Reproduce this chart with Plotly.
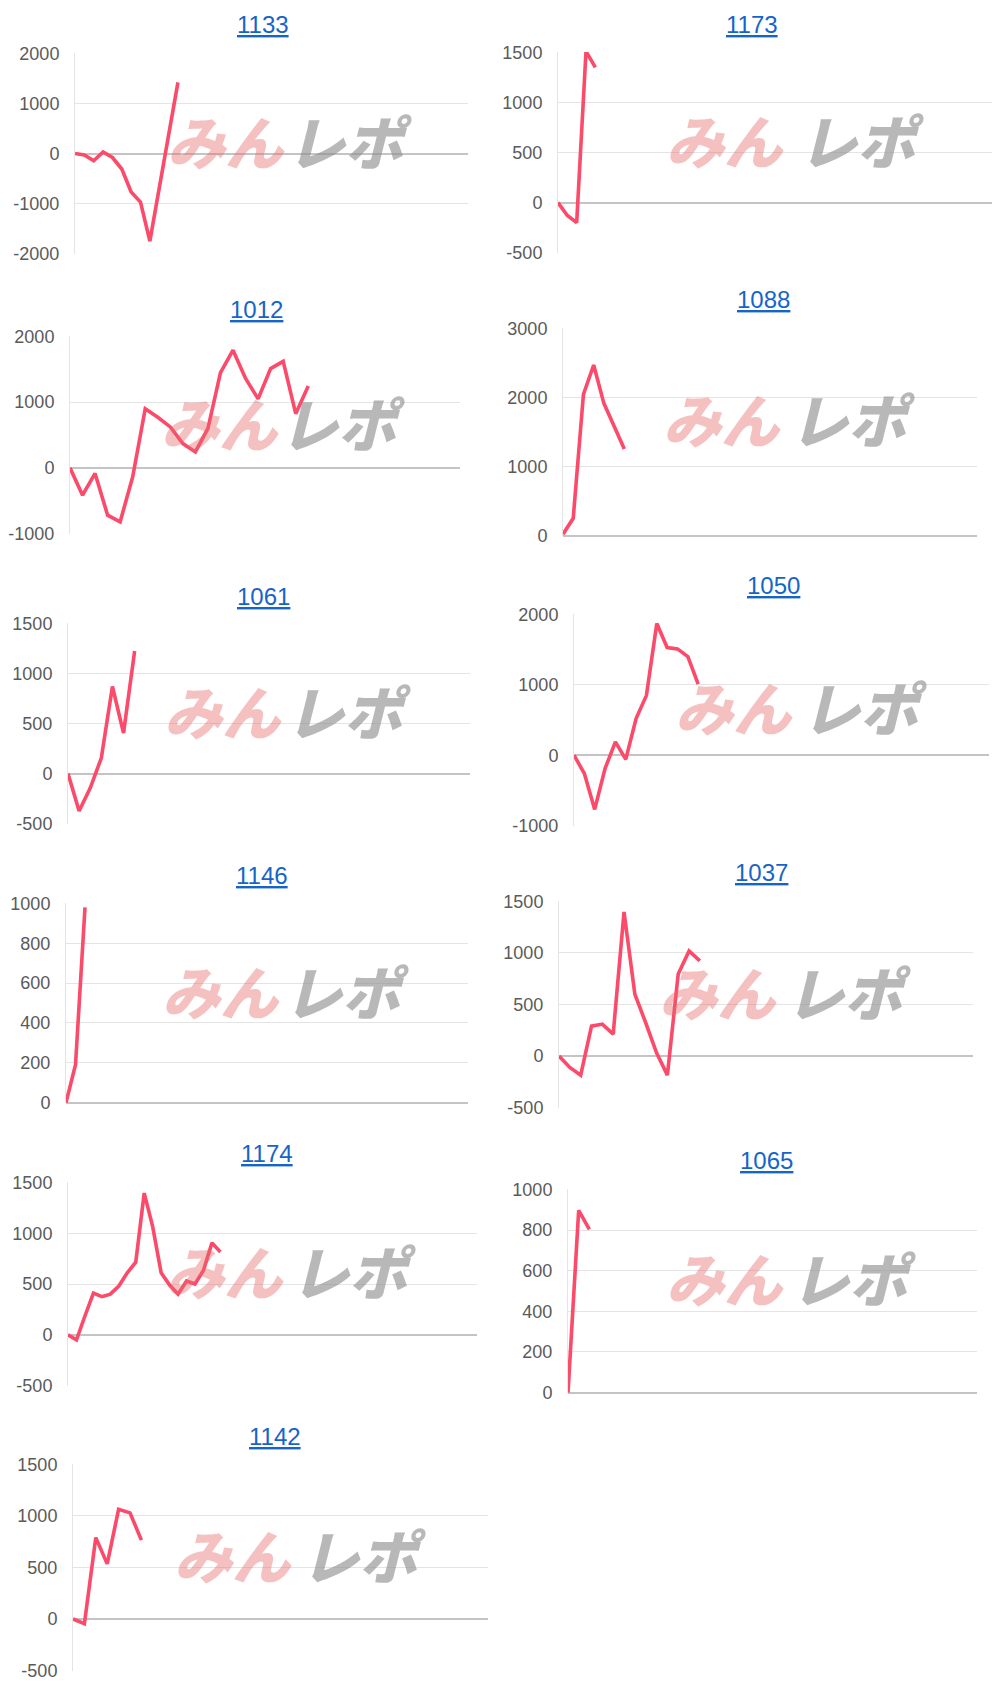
import plotly.graph_objects as go

# ---- data ----
titles = ["1133", "1173", "1012", "1088", "1061", "1050", "1146", "1037", "1174", "1065", "1142"]

v1133 = [0, -30, -145, 30, -80, -310, -770, -970, -1750, -680, 380, 1420]
v1173 = [0, -130, -200, 1510, 1350]
v1012 = [0, -415, -85, -720, -820, -135, 900, 770, 623, 370, 243, 600, 1450, 1790, 1360, 1050, 1510, 1620, 825, 1245]
v1088 = [20, 250, 2045, 2470, 1915, 1577, 1254]
v1061 = [0, -375, -145, 155, 870, 405, 1225]
v1050 = [0, -260, -770, -190, 190, -60, 520, 850, 1870, 1530, 1510, 1400, 1010]
v1146 = [0, 190, 980]
v1037 = [0, -110, -185, 290, 310, 213, 1397, 600, 323, 32, -185, 795, 1020, 923]
v1174 = [0, -50, 185, 410, 375, 400, 480, 610, 715, 1395, 1065, 610, 490, 400, 530, 500, 635, 905, 815]
v1065 = [0, 897, 803]
v1142 = [0, -45, 790, 535, 1065, 1030, 765]

series = [v1133, v1173, v1012, v1088, v1061, v1050, v1146, v1037, v1174, v1065, v1142]

y_ranges = [(-2000, 2000), (-500, 1500), (-1000, 2000), (0, 3000), (-500, 1500), (-1000, 2000),
            (0, 1000), (-500, 1500), (-500, 1500), (0, 1000), (-500, 1500)]
y_dticks = [1000, 500, 1000, 1000, 500, 1000, 200, 500, 500, 200, 500]

# ---- layout config (pixels) ----
W, H = 1000, 1693
# left, right, top, bottom of each plot area
boxes = [(75, 468, 53, 254), (558, 992, 52, 253),
         (70, 460, 336, 534), (563, 977, 328, 536),
         (68, 470, 623, 824), (574, 989, 614, 826),
         (66, 468, 903, 1103), (559, 973, 901, 1108),
         (68, 477, 1182, 1386), (568, 977, 1189, 1393),
         (73, 488, 1464, 1671)]
title_pos = [(263, 25), (752, 24), (256, 309), (763, 300), (263, 596), (773, 585),
             (262, 875), (761, 872), (267, 1153), (766, 1160), (275, 1436)]
x_span = [42.0, 46.5, 31.1, 40.5, 36.2, 40.1, 42.3, 38.2, 48.3, 38.3, 36.4]

LINE = "#fb4a6a"
GRID = "#e4e4e4"
ZERO = "#c4c4c4"
TICK = "#5a5a5a"
TITLE = "#1565c8"
FONT = "Liberation Sans, Arial, sans-serif"
CJK = "Noto Sans CJK JP"

fig = go.Figure()
layout = dict(width=W, height=H, margin=dict(l=0, r=0, t=0, b=0, pad=0, autoexpand=False),
              paper_bgcolor="white", plot_bgcolor="white", showlegend=False)
annotations = []

for i, vals in enumerate(series):
    n = i + 1
    sfx = "" if n == 1 else str(n)
    L, R, T, B = boxes[i]
    y0, y1 = y_ranges[i]
    tvals = list(range(y0, y1 + 1, y_dticks[i]))
    fig.add_trace(go.Scatter(
        x=list(range(len(vals))), y=vals, mode="lines",
        line=dict(color=LINE, width=3.6), xaxis="x" + sfx, yaxis="y" + sfx,
        hoverinfo="skip"))
    layout["xaxis" + sfx] = dict(
        domain=[L / W, R / W], range=[0, x_span[i]], anchor="y" + sfx,
        showgrid=False, zeroline=False, showticklabels=False, showline=False,
        automargin=False, fixedrange=True)
    eps = (y1 - y0) * 0.002
    layout["yaxis" + sfx] = dict(
        domain=[1 - B / H, 1 - T / H], range=[y0 - eps, y1 + eps], anchor="x" + sfx,
        tickmode="array", tickvals=tvals, ticktext=[str(v) for v in tvals],
        showgrid=True, gridcolor=GRID, gridwidth=1,
        zeroline=True, zerolinecolor=ZERO, zerolinewidth=1.5,
        showline=True, linecolor=GRID, linewidth=1,
        ticks="", ticklabelstandoff=11, automargin=False,
        tickfont=dict(family=FONT, size=18, color=TICK), fixedrange=True)
    tx, ty = title_pos[i]
    annotations.append(dict(
        text="<u>" + titles[i] + "</u>", x=tx / W, y=1 - ty / H, xref="paper", yref="paper",
        xanchor="center", yanchor="middle", showarrow=False,
        font=dict(family=FONT, size=24, color=TITLE)))
    # watermark
    annotations.append(dict(
        text="みん", x=0.385, y=0.567, xref="x" + sfx + " domain", yref="y" + sfx + " domain",
        xanchor="center", yanchor="middle", showarrow=False,
        font=dict(family=CJK, size=58, color="rgba(230,105,105,0.42)", weight=900, style="italic")))
    annotations.append(dict(
        text="レポ", x=0.70, y=0.567, xref="x" + sfx + " domain", yref="y" + sfx + " domain",
        xanchor="center", yanchor="middle", showarrow=False,
        font=dict(family=CJK, size=58, color="rgba(140,140,140,0.62)", weight=900, style="italic")))

layout["annotations"] = annotations
fig.update_layout(**layout)
fig.write_html(
    "out.html",
    config={"displayModeBar": False},
    post_script="document.body.style.margin='0';document.body.style.padding='0';"
                "document.documentElement.style.overflow='hidden';")
